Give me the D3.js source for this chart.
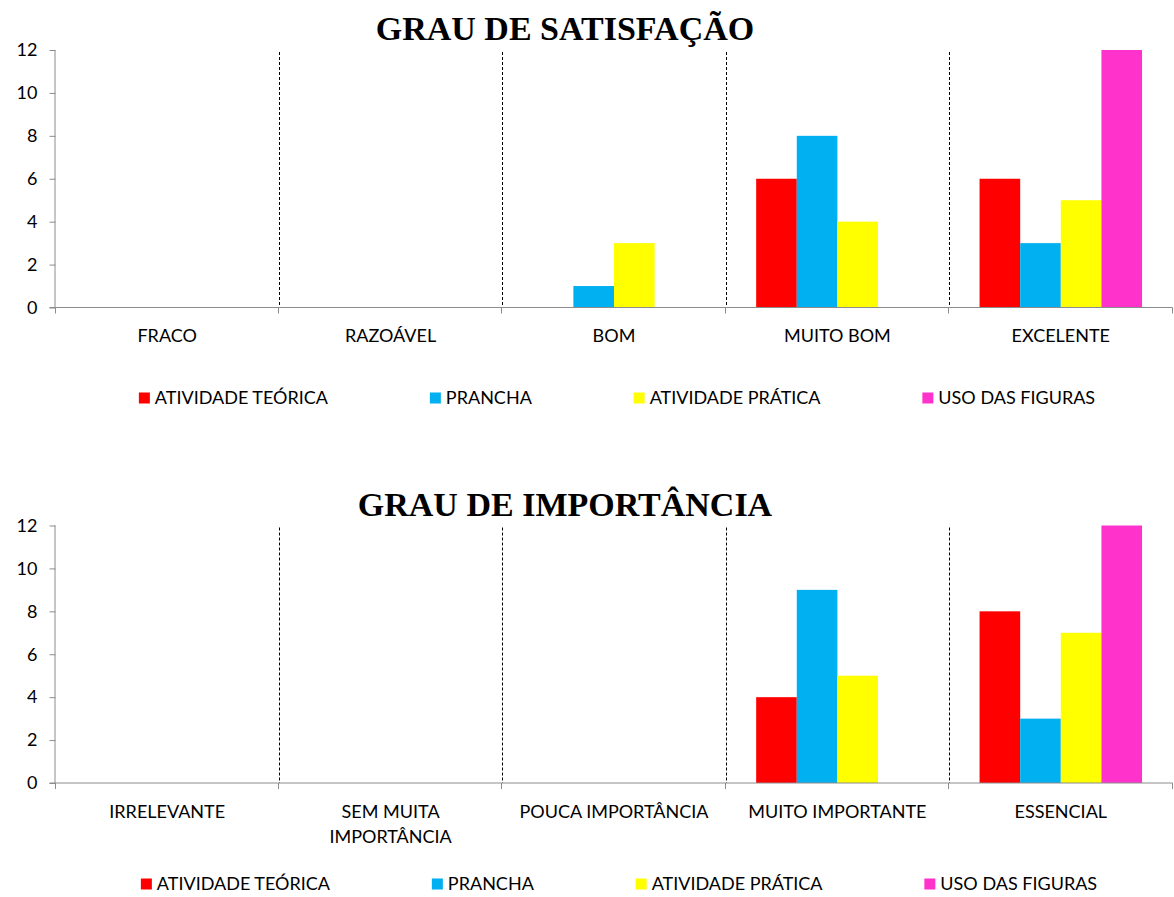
<!DOCTYPE html>
<html>
<head>
<meta charset="utf-8">
<script src="https://cdn.jsdelivr.net/npm/d3@7"></script>
<style>
  html, body { margin: 0; padding: 0; background: #fff; }
  svg { display: block; }
</style>
</head>
<body>
<svg id="chart" width="1174" height="897"></svg>
<script>
// Survey answers: number of responses per rating, for each teaching activity
const seriesNames = ["ATIVIDADE TEÓRICA", "PRANCHA", "ATIVIDADE PRÁTICA", "USO DAS FIGURAS"];

const satisfacaoCategories = ["FRACO", "RAZOÁVEL", "BOM", "MUITO BOM", "EXCELENTE"];
const satisfacaoTeorica = [0, 0, 0, 6, 6];
const satisfacaoPrancha = [0, 0, 1, 8, 3];
const satisfacaoPratica = [0, 0, 3, 4, 5];
const satisfacaoFiguras = [0, 0, 0, 0, 12];

const importanciaCategories = ["IRRELEVANTE", "SEM MUITA IMPORTÂNCIA", "POUCA IMPORTÂNCIA", "MUITO IMPORTANTE", "ESSENCIAL"];
const importanciaTeorica = [0, 0, 0, 4, 8];
const importanciaPrancha = [0, 0, 0, 9, 3];
const importanciaPratica = [0, 0, 0, 5, 7];
const importanciaFiguras = [0, 0, 0, 0, 12];

const yTickValues = [0, 2, 4, 6, 8, 10, 12];

const seriesColors = ["#FF0000", "#00B0F0", "#FFFF00", "#FF33CC"];
const FONT = "Lato, 'Open Sans', sans-serif";
const LABEL_SIZE = 18;
const AXIS_COLOR = "#8C8C8C";

const svg = d3.select("#chart");

function wrapLabel(textSel, maxWidth, lineHeight) {
  textSel.each(function () {
    const t = d3.select(this);
    const words = t.text().split(/\s+/);
    const x = t.attr("x");
    t.text(null);
    let line = [];
    let tspan = t.append("tspan").attr("x", x).attr("dy", 0);
    words.forEach(w => {
      line.push(w);
      tspan.text(line.join(" "));
      if (tspan.node().getComputedTextLength() > maxWidth && line.length > 1) {
        line.pop();
        tspan.text(line.join(" "));
        line = [w];
        tspan = t.append("tspan").attr("x", x).attr("dy", lineHeight).text(w);
      }
    });
  });
}

function drawChart(opts) {
  const g = svg.append("g").attr("transform", `translate(0,${opts.offsetY})`);
  const left = 55.5, right = 1172.5, top = 50, bottom = 307.5;

  const rows = opts.categories.map((c, i) => ({
    category: c,
    values: opts.series.map((s, k) => ({ name: seriesNames[k], value: s[i], color: seriesColors[k] }))
  }));

  const x = d3.scaleBand().domain(opts.categories).range([left, right]).paddingInner(0).paddingOuter(0);
  const xs = d3.scaleBand().domain(seriesNames).range([0, x.bandwidth()]).paddingInner(0).paddingOuter(0.75);
  const y = d3.scaleLinear().domain([0, 12]).range([bottom, top]);

  // Title
  g.append("text")
    .attr("x", 565).attr("y", 40)
    .attr("text-anchor", "middle")
    .attr("font-family", "'Liberation Serif', 'Times New Roman', serif")
    .attr("font-weight", "bold")
    .attr("font-size", 34)
    .attr("fill", "#000")
    .text(opts.title);

  // Dashed separators between categories
  const bounds = opts.categories.slice(1).map(c => x(c));
  g.selectAll("line.sep").data(bounds).enter().append("line")
    .attr("class", "sep")
    .attr("x1", d => Math.round(d) + 0.5).attr("x2", d => Math.round(d) + 0.5)
    .attr("y1", y(12) + 2).attr("y2", bottom)
    .attr("stroke", "#000").attr("stroke-width", 1)
    .attr("stroke-dasharray", "3,2");

  // Bars
  const groups = g.selectAll("g.cat").data(rows).enter().append("g")
    .attr("class", "cat")
    .attr("transform", d => `translate(${x(d.category)},0)`);
  groups.selectAll("rect").data(d => d.values.filter(v => v.value > 0)).enter().append("rect")
    .attr("x", d => xs(d.name))
    .attr("width", xs.bandwidth())
    .attr("y", d => y(d.value))
    .attr("height", d => y(0) - y(d.value))
    .attr("fill", d => d.color);

  // Y axis
  const yAxis = d3.axisLeft(y).tickValues(yTickValues).tickSize(6).tickPadding(12);
  const ya = g.append("g").attr("transform", `translate(${left},0)`).call(yAxis);
  ya.select(".domain").attr("stroke", AXIS_COLOR).attr("d", `M-0.5,${top}V${bottom}`);
  ya.selectAll(".tick line").attr("stroke", AXIS_COLOR);
  ya.selectAll(".tick text").attr("font-family", FONT).attr("font-size", LABEL_SIZE).attr("fill", "#000");

  // X axis with boundary ticks
  const allBounds = opts.categories.map(c => x(c)).concat([right]);
  g.append("line")
    .attr("x1", left - 6).attr("x2", right)
    .attr("y1", bottom).attr("y2", bottom)
    .attr("stroke", AXIS_COLOR);
  g.selectAll("line.xt").data(allBounds).enter().append("line")
    .attr("class", "xt")
    .attr("x1", d => Math.round(d) - 0.5).attr("x2", d => Math.round(d) - 0.5)
    .attr("y1", bottom).attr("y2", bottom + 6)
    .attr("stroke", AXIS_COLOR);

  const labels = g.selectAll("text.cat").data(opts.categories).enter().append("text")
    .attr("class", "cat")
    .attr("x", d => x(d) + x.bandwidth() / 2)
    .attr("y", 342)
    .attr("text-anchor", "middle")
    .attr("font-family", FONT).attr("font-size", LABEL_SIZE).attr("fill", "#000")
    .text(d => d);
  wrapLabel(labels, x.bandwidth() - 8, 25);

  // Legend
  const lg = g.append("g").attr("transform", `translate(0,${opts.legendY})`);
  const items = lg.selectAll("g").data(seriesNames).enter().append("g");
  items.append("rect")
    .attr("x", 0).attr("y", -11.5).attr("width", 11).attr("height", 11)
    .attr("fill", (d, i) => seriesColors[i]);
  items.append("text")
    .attr("x", 16).attr("y", 0)
    .attr("font-family", FONT).attr("font-size", LABEL_SIZE).attr("fill", "#000")
    .text(d => d);
  const widths = items.nodes().map(n => n.getBBox().width);
  const gap = 101;
  const total = d3.sum(widths) + gap * (widths.length - 1);
  let cx = opts.legendCenter - total / 2;
  items.each(function (d, i) {
    d3.select(this).attr("transform", `translate(${cx},0)`);
    cx += widths[i] + gap;
  });
}

drawChart({
  offsetY: 0,
  title: "GRAU DE SATISFAÇÃO",
  categories: satisfacaoCategories,
  series: [satisfacaoTeorica, satisfacaoPrancha, satisfacaoPratica, satisfacaoFiguras],
  legendY: 404,
  legendCenter: 617
});

drawChart({
  offsetY: 475.5,
  title: "GRAU DE IMPORTÂNCIA",
  categories: importanciaCategories,
  series: [importanciaTeorica, importanciaPrancha, importanciaPratica, importanciaFiguras],
  legendY: 414.5,
  legendCenter: 619
});
</script>
</body>
</html>
